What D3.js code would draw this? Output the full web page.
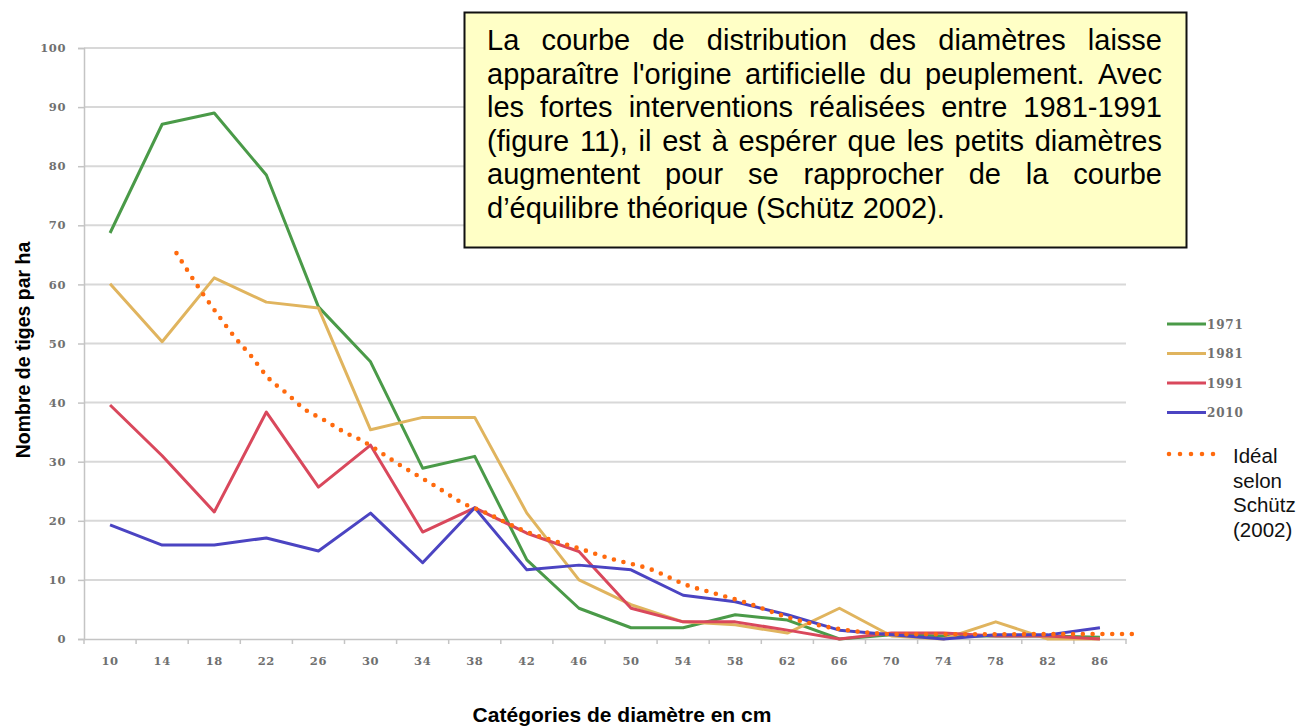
<!DOCTYPE html>
<html>
<head>
<meta charset="utf-8">
<script src="https://cdn.jsdelivr.net/npm/d3@7"></script>
<style>
  body { margin: 0; background: #fff; }
  svg { display: block; }
</style>
</head>
<body>
<svg id="chart" width="1315" height="726"></svg>
<script>
// diameter classes (cm)
const diameters = [10, 14, 18, 22, 26, 30, 34, 38, 42, 46, 50, 54, 58, 62, 66, 70, 74, 78, 82, 86];
const yTicks = [0, 10, 20, 30, 40, 50, 60, 70, 80, 90, 100];

// stems per ha
const s1971 = [68.7, 87.1, 89, 78.5, 56.2, 46.9, 28.9, 30.9, 13.4, 5.2, 1.9, 1.9, 4.1, 3.2, 0, 0.7, 0.5, 0.5, 0.5, 0.3];
const s1981 = [60.1, 50.3, 61.1, 57, 56, 35.4, 37.5, 37.5, 21.3, 10, 5.8, 2.9, 2.4, 1, 5.2, 0.5, 0, 2.9, 0, 0];
const s1991 = [39.6, 31, 21.5, 38.4, 25.7, 32.8, 18.1, 22.2, 17.9, 14.8, 5.2, 2.9, 2.9, 1.5, 0, 1, 1, 0.5, 0.5, 0];
const s2010 = [19.3, 15.9, 15.9, 17.1, 14.9, 21.3, 12.9, 22.2, 11.7, 12.5, 11.7, 7.4, 6.3, 4.1, 1.5, 0.7, 0, 0.7, 0.7, 1.9];

// ideal curve (Schütz 2002): [diameter, stems]
const idealDiam = [15.1, 17.1, 18.4, 19.75, 20.75, 22.1, 23.7, 24.8, 26.4, 28, 29.4, 31.3, 32.5, 33.8, 35.1, 36.9, 38.9, 41.7, 45.9, 48.6, 51.5, 54.3, 56.3, 58.9, 62, 64.7, 67.7, 70.7, 89.1];
const idealVal = [65.3, 58.5, 54.5, 50.6, 48.1, 44.3, 41.3, 39.1, 37.1, 35, 33.5, 30.8, 29.1, 27.4, 25.7, 23.2, 21.3, 18.4, 15.4, 13.5, 11.8, 9.1, 7.8, 6.1, 3.7, 2.2, 1.2, 0.8, 0.85];

const seriesNames = ["1971", "1981", "1991", "2010"];
const seriesColors = ["#4a9a48", "#e0b45e", "#d9485c", "#4b44c2"];
const seriesData = [s1971, s1981, s1991, s2010];

const boxLines = [
  "La courbe de distribution des diamètres laisse",
  "apparaître l'origine artificielle du peuplement. Avec",
  "les fortes interventions réalisées entre 1981-1991",
  "(figure 11), il est à espérer que les petits diamètres",
  "augmentent pour se rapprocher de la courbe",
  "d\u2019équilibre théorique (Schütz 2002)."
];
const idealLabel = ["Idéal", "selon", "Schütz", "(2002)"];

const svg = d3.select("#chart");
const plot = {left: 84, right: 1126, top: 48, bottom: 639};

const x = d3.scaleBand().domain(diameters).range([plot.left, plot.right]).padding(0);
const bw = x.bandwidth();
const xc = d => x(d) + bw / 2;
const xl = d3.scaleLinear().domain([10, 86]).range([xc(10), xc(86)]);
const y = d3.scaleLinear().domain([0, 100]).range([plot.bottom, plot.top]);

const tickFont = "'DejaVu Serif', 'Liberation Serif', serif";
const sans = "Arial, 'Liberation Sans', sans-serif";

// gridlines
svg.append("g").selectAll("line").data(yTicks.filter(t => t > 0)).join("line")
    .attr("x1", plot.left).attr("x2", plot.right)
    .attr("y1", d => y(d)).attr("y2", d => y(d))
    .attr("stroke", "#d8d8d8").attr("stroke-width", 2);

// y axis
const yAxis = svg.append("g").attr("transform", `translate(${plot.left},0)`)
    .call(d3.axisLeft(y).tickValues(yTicks).tickSize(6).tickPadding(12));
yAxis.select(".domain").attr("stroke", "#c4c4c4").attr("stroke-width", 1.5);
yAxis.selectAll(".tick line").attr("stroke", "#c4c4c4").attr("stroke-width", 1.5);
yAxis.selectAll(".tick text").attr("font-family", tickFont).attr("font-size", 11.5)
    .attr("font-weight", "bold").attr("fill", "#707070").attr("letter-spacing", 0.6);

// x axis
const xAxis = svg.append("g").attr("transform", `translate(0,${plot.bottom})`)
    .call(d3.axisBottom(x).tickSize(0).tickPadding(18));
xAxis.select(".domain").attr("stroke", "#c4c4c4").attr("stroke-width", 1.5);
xAxis.selectAll(".tick text").attr("font-family", tickFont).attr("font-size", 11.5)
    .attr("font-weight", "bold").attr("fill", "#707070").attr("letter-spacing", 0.6);
svg.append("g").selectAll("line").data(diameters.concat([null])).join("line")
    .attr("x1", (d, i) => plot.left + i * bw).attr("x2", (d, i) => plot.left + i * bw)
    .attr("y1", plot.bottom).attr("y2", plot.bottom + 5)
    .attr("stroke", "#c4c4c4").attr("stroke-width", 1.5);

// series lines
const line = d3.line().x((d, i) => xc(diameters[i])).y(d => y(d));
svg.append("g").selectAll("path").data(seriesData).join("path")
    .attr("d", d => line(d))
    .attr("fill", "none")
    .attr("stroke", (d, i) => seriesColors[i])
    .attr("stroke-width", 3)
    .attr("stroke-linejoin", "round");

// ideal curve, dotted
const idealLine = d3.line().curve(d3.curveMonotoneX)
    .x((d, i) => xl(idealDiam[i])).y(d => y(d));
svg.append("path")
    .attr("d", idealLine(idealVal))
    .attr("fill", "none")
    .attr("stroke", "#ff6a0e")
    .attr("stroke-width", 4.6)
    .attr("stroke-linecap", "round")
    .attr("stroke-dasharray", "0 9.8");

// legend
const leg = svg.append("g");
seriesNames.forEach((name, i) => {
  const ly = 324 + i * 29.5;
  leg.append("line").attr("x1", 1167).attr("x2", 1206).attr("y1", ly).attr("y2", ly)
      .attr("stroke", seriesColors[i]).attr("stroke-width", 3);
  leg.append("text").attr("x", 1207).attr("y", ly + 4.5).text(name)
      .attr("font-family", tickFont).attr("font-size", 12).attr("font-weight", "bold")
      .attr("fill", "#707070").attr("letter-spacing", 0.8);
});
leg.append("line").attr("x1", 1169).attr("x2", 1214).attr("y1", 454).attr("y2", 454)
    .attr("stroke", "#ff6a0e").attr("stroke-width", 4.6)
    .attr("stroke-linecap", "round").attr("stroke-dasharray", "0 11");
leg.append("g").selectAll("text").data(idealLabel).join("text")
    .attr("x", 1233).attr("y", (d, i) => 463 + i * 24.5)
    .attr("font-family", sans).attr("font-size", 20.5)
    .attr("fill", "#111").text(d => d);

// axis titles
svg.append("text").attr("x", 622).attr("y", 722).attr("text-anchor", "middle")
    .attr("font-family", sans).attr("font-weight", "bold")
    .attr("font-size", 21).attr("fill", "#000").text("Catégories de diamètre en cm");
svg.append("text").attr("transform", "translate(30,350) rotate(-90)").attr("text-anchor", "middle")
    .attr("font-family", sans).attr("font-weight", "bold")
    .attr("font-size", 19.5).attr("fill", "#000").text("Nombre de tiges par ha");

// text box
svg.append("rect").attr("x", 464.5).attr("y", 12.5).attr("width", 722).attr("height", 235)
    .attr("fill", "#ffffc6").attr("stroke", "#111").attr("stroke-width", 2);
const tx0 = 487, tx1 = 1162, boxSize = 29;
boxLines.forEach((ln, li) => {
  const by = 50 + li * 33.6;
  const words = ln.split(" ");
  const g = svg.append("g");
  const nodes = words.map(w => g.append("text").attr("y", by)
      .attr("font-family", sans).attr("font-size", boxSize).attr("fill", "#000").text(w));
  const widths = nodes.map(n => n.node().getComputedTextLength());
  const total = d3.sum(widths);
  const last = li === boxLines.length - 1;
  const gap = last ? boxSize * 0.278 : (tx1 - tx0 - total) / (words.length - 1);
  let cx = tx0;
  nodes.forEach((n, i) => { n.attr("x", cx); cx += widths[i] + gap; });
});
</script>
</body>
</html>
